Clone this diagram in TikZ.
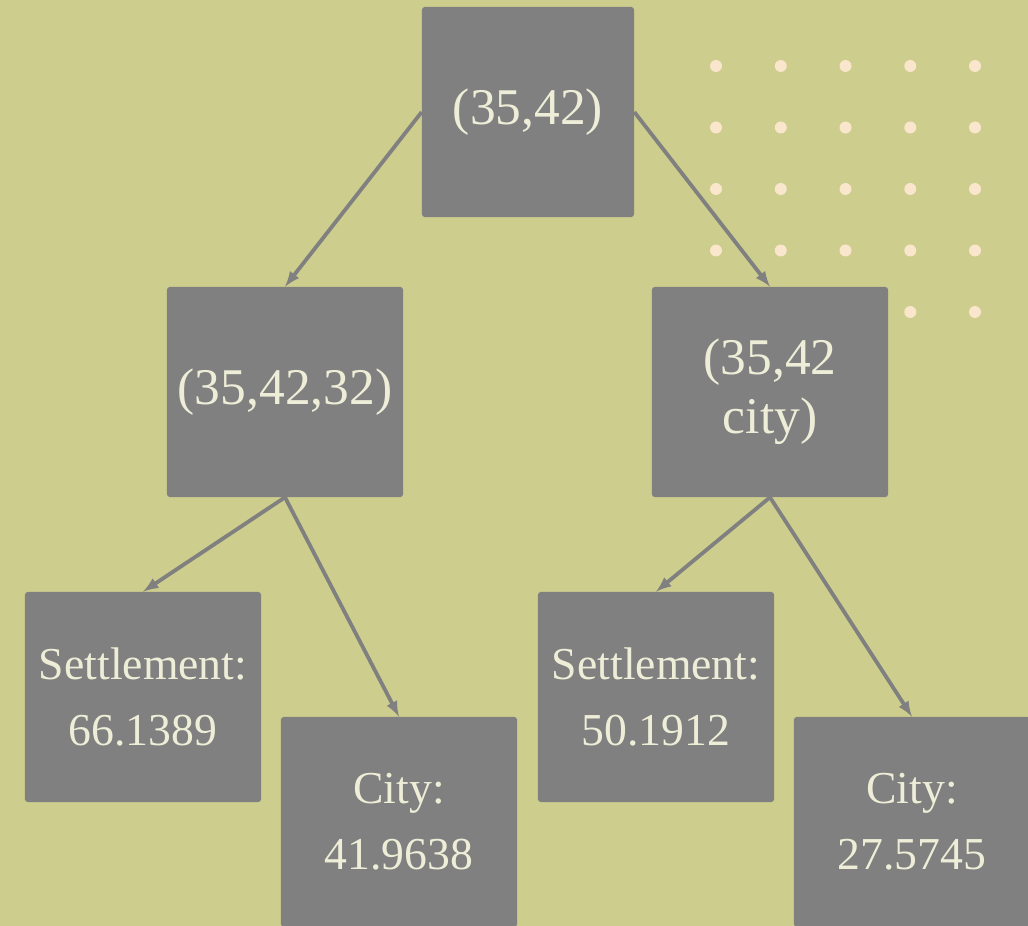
\documentclass[tikz,border=0pt]{standalone}
\usepackage{fontspec}
\setmainfont{Liberation Serif}
\tikzset{>=latex}
\definecolor{bgolive}{HTML}{CDCD8D}
\definecolor{boxgray}{HTML}{808080}
\definecolor{cream}{HTML}{EEEED8}
\definecolor{dotcream}{HTML}{FAE6CC}
\tikzstyle{box}=[fill=boxgray,rounded corners=2pt,text=cream,align=center,inner sep=0pt]
\tikzstyle{upper}=[box,minimum width=5.9cm,minimum height=5.25cm,font=\fontsize{36.6}{42}\selectfont]
\tikzstyle{leaf}=[box,minimum width=5.9cm,minimum height=5.25cm,font=\fontsize{32.5}{47}\selectfont]
\tikzstyle{link}=[->,line width=2.7pt,draw=boxgray]

\begin{document}
\begin{tikzpicture}[x=0.025cm,y=-0.025cm]

  % background
  \fill[bgolive] (0,0) rectangle (1028,926);
  \useasboundingbox (0,0) rectangle (1028,926);

  % dot grid
  \foreach \i in {0,...,4}
    \foreach \j in {0,...,4}
      \fill[dotcream] ({716+64.75*\i},{66+61.5*\j}) circle (6);

  % tree nodes
  \node[upper,minimum width=5.3cm] (root) at (528,112) {(35,42)};
  \node[upper] (left) at (285,392) {(35,42,32)};
  \node[upper] (right) at (770,392) {(35,42\\city)};
  \node[leaf] (leftset) at (143,697) {Settlement:\\66.1389};
  \node[leaf] (leftcity) at (399,822) {City:\\41.9638};
  \node[leaf] (rightset) at (656,697) {Settlement:\\50.1912};
  \node[leaf] (rightcity) at (912,822) {City:\\27.5745};

  % links
  \draw[link] (root.west) -- (left.north);
  \draw[link] (root.east) -- (right.north);
  \draw[link] (left.south) -- (leftset.north);
  \draw[link] (left.south) -- (leftcity.north);
  \draw[link] (right.south) -- (rightset.north);
  \draw[link] (right.south) -- (rightcity.north);

\end{tikzpicture}
\end{document}
